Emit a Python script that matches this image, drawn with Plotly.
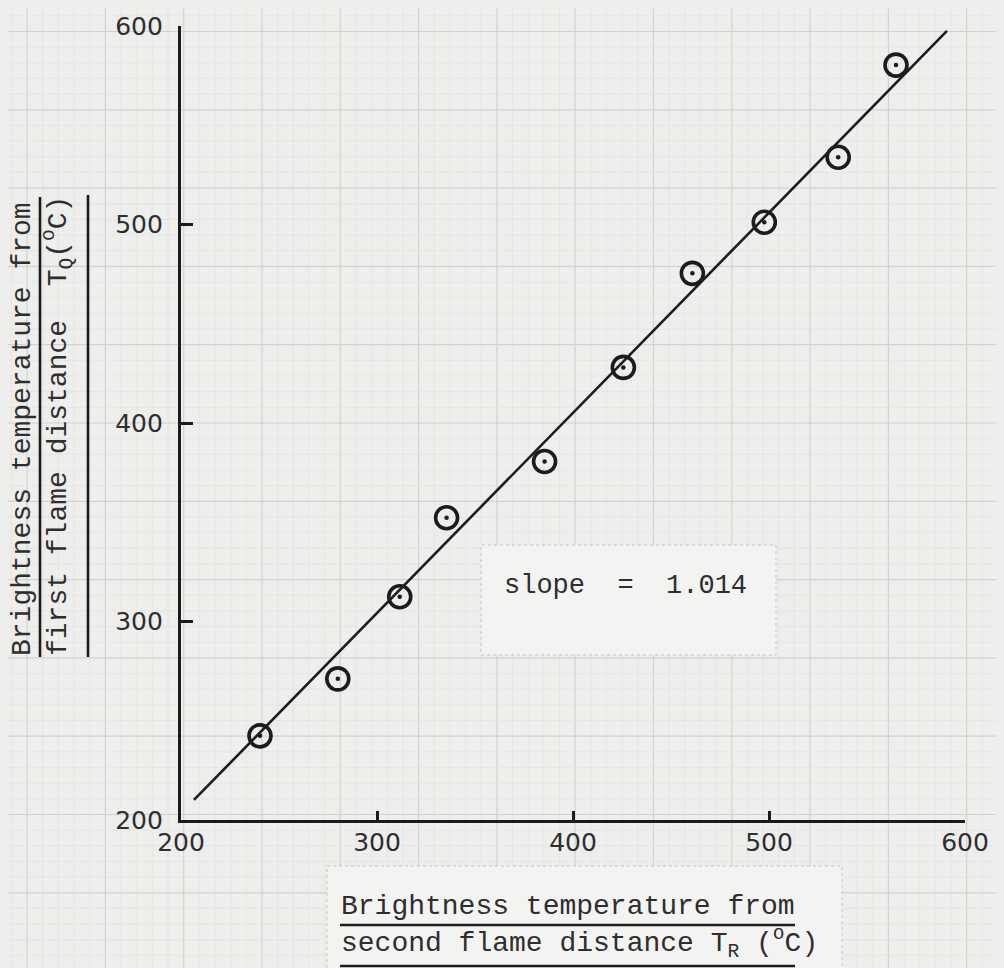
import plotly.graph_objects as go

# ---- data ----
T_R = [240.3, 280.0, 311.6, 335.5, 385.5, 425.7, 460.9, 497.6, 535.3, 564.8]   # second flame distance (°C)
T_Q = [242.4, 271.1, 312.5, 352.3, 380.6, 428.0, 475.4, 501.1, 533.9, 580.3]   # first flame distance (°C)
fit_x = [206.6, 590.8]
fit_y = [210.1, 597.5]
tick_vals = [200, 300, 400, 500, 600]
tick_text = ["200", "300", "400", "500", "600"]
slope_label = "slope  =  1.014"

W, H = 1004, 968
OFF = 8  # page body margin
INK = "#1c1c1c"
TEXT = "#2e2e2e"
PAPER = "#eeeeec"
MONO = "Liberation Mono, Courier New, monospace"
SANS = "DejaVu Sans, sans-serif"

def px(x):
    return (x - OFF) / W

def py(y):
    return 1 - (y - OFF) / H

fig = go.Figure()
fig.add_trace(go.Scatter(x=fit_x, y=fit_y, mode="lines",
                         line=dict(color=INK, width=2.6), showlegend=False,
                         hoverinfo="skip"))
fig.add_trace(go.Scatter(x=T_R, y=T_Q, mode="markers", showlegend=False,
                         marker=dict(symbol="circle-open", size=22, color=INK,
                                     line=dict(width=3.6, color=INK))))
fig.add_trace(go.Scatter(x=T_R, y=T_Q, mode="markers", showlegend=False,
                         hoverinfo="skip",
                         marker=dict(symbol="circle", size=4.5, color=INK)))

shapes = []
# graph-paper grid (decoration) across the whole page
major = 78.3
minor = major / 5
x0g, y0g = 262 - 4 * major, 423 - 6 * major
for i in range(0, 80):
    xv = x0g + i * minor
    if xv > W + OFF:
        break
    is_major = i % 5 == 0
    shapes.append(dict(type="line", xref="paper", yref="paper", layer="below",
                       x0=px(xv), x1=px(xv), y0=0, y1=1,
                       line=dict(color="#d2d2d0" if is_major else "#e3e3e1",
                                 width=1.2 if is_major else 0.8)))
for i in range(0, 80):
    yv = y0g + i * minor
    if yv > H + OFF:
        break
    is_major = i % 5 == 0
    shapes.append(dict(type="line", xref="paper", yref="paper", layer="below",
                       x0=0, x1=1, y0=py(yv), y1=py(yv),
                       line=dict(color="#d2d2d0" if is_major else "#e3e3e1",
                                 width=1.2 if is_major else 0.8)))
# pasted label boxes
shapes.append(dict(type="rect", xref="paper", yref="paper", layer="below",
                   x0=px(481), x1=px(776), y0=py(655), y1=py(545),
                   fillcolor="#f3f3f1", line=dict(color="#c4c4c2", width=1, dash="dot")))
shapes.append(dict(type="rect", xref="paper", yref="paper", layer="below",
                   x0=px(327), x1=px(842), y0=py(985), y1=py(866),
                   fillcolor="#f3f3f1", line=dict(color="#c4c4c2", width=1, dash="dot")))
# title rules
for (xa, ya, xb, yb) in [(340, 925, 795, 925), (340, 966, 795, 966),
                         (40, 657, 40, 197), (88, 657, 88, 195)]:
    shapes.append(dict(type="line", xref="paper", yref="paper",
                       x0=px(xa), x1=px(xb), y0=py(ya), y1=py(yb),
                       line=dict(color=INK, width=2.6)))

annotations = [
    dict(text="Brightness temperature from", x=px(339), y=py(906), xref="paper", yref="paper",
         xanchor="left", yanchor="middle", showarrow=False,
         font=dict(family=MONO, size=28, color=TEXT)),
    dict(text="second flame distance T<sub>R</sub> (<sup>o</sup>C)", x=px(339), y=py(943),
         xref="paper", yref="paper", xanchor="left", yanchor="middle", showarrow=False,
         font=dict(family=MONO, size=28, color=TEXT)),
    dict(text="Brightness temperature from", x=px(22), y=py(658), xref="paper", yref="paper",
         xanchor="center", yanchor="bottom", textangle=-90, showarrow=False,
         font=dict(family=MONO, size=28, color=TEXT)),
    dict(text="first flame distance  T<sub>Q</sub>(<sup>o</sup>C)", x=px(58), y=py(658),
         xref="paper", yref="paper", xanchor="center", yanchor="bottom", textangle=-90,
         showarrow=False, font=dict(family=MONO, size=28, color=TEXT)),
    dict(text=slope_label, x=px(502), y=py(586), xref="paper", yref="paper",
         xanchor="left", yanchor="middle", showarrow=False,
         font=dict(family=MONO, size=27, color=TEXT)),
]

fig.update_layout(
    template="none",
    width=W, height=H,
    margin=dict(l=0, r=0, t=0, b=0, pad=0, autoexpand=False),
    paper_bgcolor=PAPER, plot_bgcolor="rgba(0,0,0,0)",
    shapes=shapes, annotations=annotations,
    xaxis=dict(domain=[px(181), px(965)], range=[200, 600], showgrid=False, zeroline=False,
               automargin=False,
               showline=True, linecolor=INK, linewidth=3.2,
               ticks="inside", ticklen=9, tickwidth=2.6, tickcolor=INK,
               tickvals=tick_vals, ticktext=tick_text, ticklabelstandoff=-2,
               tickfont=dict(family=SANS, size=25, color=TEXT)),
    yaxis=dict(domain=[py(820), py(26)], range=[200, 600], showgrid=False, zeroline=False,
               automargin=False,
               showline=True, linecolor=INK, linewidth=3.2,
               ticks="inside", ticklen=12, tickwidth=2.6, tickcolor=INK,
               tickvals=tick_vals, ticktext=tick_text, ticklabelstandoff=10,
               tickfont=dict(family=SANS, size=25, color=TEXT)),
)

fig.write_html("out.html", post_script="document.body.style.background='%s';" % PAPER)
